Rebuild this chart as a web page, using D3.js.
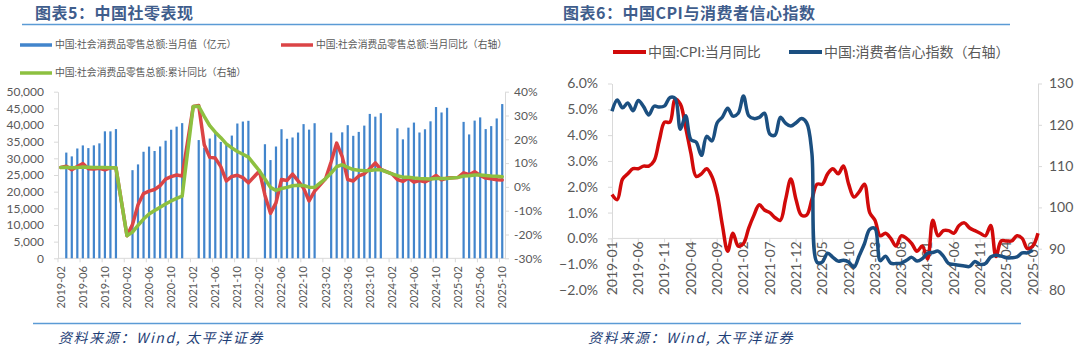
<!DOCTYPE html>
<html>
<head>
<meta charset="utf-8">
<script src="https://cdn.jsdelivr.net/npm/d3@7"></script>
<style>
  body { margin: 0; background: #fff; }
  svg { display: block; font-family: Lato, "Noto Sans CJK SC", sans-serif; }
</style>
</head>
<body>
<div id="app"></div>
<script>
// month labels "YYYY-MM" from start to end (inclusive)
function monthRange(start, end) {
  const parse = d3.timeParse('%Y-%m')
  const fmt = d3.timeFormat('%Y-%m')
  return d3.timeMonth.range(parse(start), d3.timeMonth.offset(parse(end), 1)).map(fmt)
}

// ---- chart 5: retail sales, 2019-02 .. 2025-10 ----
const retailMonths = monthRange('2019-02', '2025-10')

// monthly value (100m yuan), Jan/Feb not published
const retailValue = [
  null, 31726, 30586, 32956, 33878, 33073, 33896, 34495, 38104, 38094, 38777,
  null, null, 26450, 28178, 31973, 33526, 32203, 33571, 35295, 38576, 39514, 40566,
  null, null, 35484, 33153, 35945, 37586, 34925, 34395, 36833, 40454, 41043, 41269,
  null, null, 34233, 29483, 33547, 38742, 35870, 36258, 37745, 40271, 38615, 40542,
  null, null, 37715, 34910, 37803, 39951, 36761, 37933, 39826, 43333, 42505, 43550,
  null, null, 39020, 35699, 39211, 40732, 37757, 38726, 41112, 45396, 43763, 45172,
  null, null, 40940, 37174, 41326, 42287, 38780, 39668, 41971, 46291
]

// monthly yoy (%)
const retailYoY = [
  8.2, 8.7, 7.2, 8.6, 9.8, 7.6, 7.5, 7.8, 7.2, 8.0, 8.0,
  null, -20.5, -15.8, -7.5, -2.8, -1.8, -1.1, 0.5, 3.3, 4.3, 5.0, 4.6,
  null, 33.8, 34.2, 17.7, 12.4, 12.1, 8.5, 2.5, 4.4, 4.9, 3.9, 1.7,
  null, 6.7, -3.5, -11.1, -6.7, 3.1, 2.7, 5.4, 2.5, -0.5, -5.9, -1.8,
  null, 3.5, 10.6, 18.4, 12.7, 3.1, 2.5, 4.6, 5.5, 7.6, 10.1, 7.4,
  null, 5.5, 3.1, 2.3, 3.7, 2.0, 2.7, 2.1, 3.2, 4.8, 3.0, 3.7,
  null, 4.0, 5.9, 5.1, 6.4, 4.8, 3.7, 3.4, 3.0, 2.9
]

// cumulative yoy (%)
const retailCumYoY = [
  8.2, 8.3, 8.0, 8.1, 8.4, 8.3, 8.2, 8.2, 8.1, 8.0, 8.0,
  null, -20.5, -19.0, -16.2, -13.5, -11.4, -9.9, -8.6, -7.2, -5.9, -4.8, -3.9,
  null, 33.8, 33.9, 29.6, 25.7, 23.0, 20.7, 18.1, 16.4, 14.9, 13.7, 12.5,
  null, 6.7, 3.3, -0.2, -1.5, -0.7, -0.2, 0.5, 0.7, 0.6, -0.1, -0.2,
  null, 3.5, 5.8, 8.5, 9.3, 8.2, 7.3, 7.0, 6.8, 6.9, 7.2, 7.2,
  null, 5.5, 4.7, 4.1, 4.1, 3.7, 3.5, 3.4, 3.3, 3.5, 3.5, 3.5,
  null, 4.0, 4.6, 4.7, 5.0, 5.0, 4.8, 4.6, 4.5, 4.3
]

const retailValueTicks = d3.range(0, 50001, 5000)
const retailPctTicks = d3.range(-30, 41, 10)

// ---- chart 6: CPI and consumer confidence ----
const cpiMonths = monthRange('2019-01', '2025-10')

const cpiYoY = [
  1.7, 1.5, 2.3, 2.5, 2.7, 2.7, 2.8, 2.8, 3.0, 3.8, 4.5, 4.5,
  5.4, 5.2, 4.3, 3.3, 2.4, 2.5, 2.7, 2.4, 1.7, 0.5, -0.5, 0.2,
  -0.3, -0.2, 0.4, 0.9, 1.3, 1.1, 1.0, 0.8, 0.7, 1.5, 2.3, 1.5,
  0.9, 0.9, 1.5, 2.1, 2.1, 2.5, 2.7, 2.5, 2.8, 2.1, 1.6, 1.8,
  2.1, 1.0, 0.7, 0.1, 0.2, 0.0, -0.3, 0.1, 0.0, -0.2, -0.5, -0.3,
  -0.8, 0.7, 0.1, 0.3, 0.3, 0.2, 0.5, 0.6, 0.4, 0.3, 0.2, 0.1,
  0.5, -0.7, -0.1, -0.1, -0.1, 0.1, 0.0, -0.4, -0.3, 0.2
]

// consumer confidence index, through 2025-09
const confidence = [
  123.3, 126.0, 124.1, 125.3, 123.4, 125.9, 124.4, 122.4, 124.5, 124.3, 124.6, 126.6,
  126.4, 118.9, 122.2, 116.4, 115.8, 112.6, 117.2, 116.1, 120.5, 121.9, 124.0, 122.1,
  122.8, 127.0, 122.2, 121.5, 121.8, 122.8, 117.8, 117.5, 121.8, 120.4, 119.7, 120.5,
  121.5, 120.5, 113.2, 86.7, 86.8, 88.9, 87.9, 87.0, 87.2, 86.8, 85.5, 88.3,
  91.2, 94.7, 94.9, 87.1, 88.2, 86.5, 86.4, 86.5, 87.2, 87.9, 87.0, 87.6,
  88.9, 89.1, 89.4, 88.2, 86.4, 86.2, 86.0, 85.8, 85.7, 86.9, 86.2, 86.4,
  88.0, 88.4, 88.2, 87.8, 87.8, 88.0, 89.0, 89.0, 89.6
]

const cpiTicks = d3.range(-2, 6.01, 1)
const confTicks = d3.range(80, 131, 10)

const axisColor = '#d9d9d9'
const labelColor = '#595959'
const titleColor = '#3f5d8c'

// pair values with their month, dropping gaps so lines connect across them
function points(months, values) {
  return months.map((m, i) => ({ m, v: values[i] })).filter((d) => d.v != null)
}

function styleAxis(g, size) {
  g.select('.domain').attr('stroke', axisColor)
  g.selectAll('.tick line').attr('stroke', axisColor)
  g.selectAll('.tick text')
    .attr('fill', labelColor)
    .style('font-size', size + 'px')
    .style('font-family', 'Lato, sans-serif')
}

function main() {
  const app = d3.select('#app')
  const svg = app.append('svg').attr('width', 1080).attr('height', 347)

  // ================= left chart =================
  const left = svg.append('g')

  left.append('text')
    .attr('x', 35).attr('y', 19)
    .attr('fill', titleColor)
    .style('font-family', '"Noto Sans CJK SC"')
    .style('font-size', '16px')
    .style('font-weight', 'bold')
    .style('letter-spacing', '0.5px')
    .text('图表5：中国社零表现')

  left.append('line')
    .attr('x1', 22).attr('x2', 540).attr('y1', 24.5).attr('y2', 24.5)
    .attr('stroke', '#5b9bd5').attr('stroke-width', 1.5)

  // legend
  const legend1 = [
    { label: '中国:社会消费品零售总额:当月值（亿元）', color: '#4285cc', x: 20, y: 45 },
    { label: '中国:社会消费品零售总额:当月同比（右轴）', color: '#db4446', x: 281, y: 45 },
    { label: '中国:社会消费品零售总额:累计同比（右轴）', color: '#8dc040', x: 20, y: 73 }
  ]
  const lg1 = left.selectAll('g.legend').data(legend1).join('g')
  lg1.append('line')
    .attr('x1', (d) => d.x).attr('x2', (d) => d.x + 32)
    .attr('y1', (d) => d.y).attr('y2', (d) => d.y)
    .attr('stroke', (d) => d.color).attr('stroke-width', 3.5)
  lg1.append('text')
    .attr('x', (d) => d.x + 35).attr('y', (d) => d.y)
    .attr('dy', '0.35em')
    .attr('fill', labelColor)
    .style('font-size', '9.8px')
    .text((d) => d.label)

  const x1 = d3.scaleBand().domain(retailMonths).range([58, 505]).paddingInner(0.6).paddingOuter(0.3)
  const y1 = d3.scaleLinear().domain([0, 50000]).range([258.3, 91.7])
  const y1r = d3.scaleLinear().domain([-30, 40]).range([258.3, 91.7])
  const center1 = (m) => x1(m) + x1.bandwidth() / 2

  // axes
  left.append('g')
    .attr('transform', 'translate(58,0)')
    .call(d3.axisLeft(y1).tickValues(retailValueTicks).tickFormat(d3.format(',')).tickSize(4).tickSizeOuter(0).tickPadding(10))
    .call(styleAxis, 12)

  left.append('g')
    .attr('transform', 'translate(505,0)')
    .call(d3.axisRight(y1r).tickValues(retailPctTicks).tickFormat((d) => d + '%').tickSize(4).tickSizeOuter(0).tickPadding(5))
    .call(styleAxis, 12)

  left.append('line')
    .attr('x1', 58).attr('x2', 505).attr('y1', 258.3).attr('y2', 258.3)
    .attr('stroke', axisColor)

  const retailTickMonths = retailMonths.filter((m, i) => i % 4 === 0)
  left.selectAll('line.xtick').data(retailTickMonths).join('line')
    .attr('x1', (m) => center1(m) - x1.step() / 2)
    .attr('x2', (m) => center1(m) - x1.step() / 2)
    .attr('y1', 258.3).attr('y2', 262.3)
    .attr('stroke', axisColor)

  left.selectAll('text.xlabel').data(retailTickMonths).join('text')
    .attr('transform', (m) => `translate(${center1(m)},266) rotate(-90)`)
    .attr('dy', '0.35em')
    .attr('text-anchor', 'end')
    .attr('fill', labelColor)
    .style('font-size', '11px')
    .text((m) => m)

  // bars
  left.selectAll('rect.bar').data(points(retailMonths, retailValue)).join('rect')
    .attr('x', (d) => x1(d.m))
    .attr('width', x1.bandwidth())
    .attr('y', (d) => y1(d.v))
    .attr('height', (d) => y1(0) - y1(d.v))
    .attr('fill', '#4285cc')

  // lines on right axis
  const line1 = d3.line().x((d) => center1(d.m)).y((d) => y1r(d.v))
  left.append('path')
    .datum(points(retailMonths, retailYoY))
    .attr('d', line1)
    .attr('fill', 'none').attr('stroke', '#db4446').attr('stroke-width', 3.5)
    .attr('stroke-linejoin', 'round').attr('stroke-linecap', 'round')
  left.append('path')
    .datum(points(retailMonths, retailCumYoY))
    .attr('d', line1)
    .attr('fill', 'none').attr('stroke', '#8dc040').attr('stroke-width', 3.5)
    .attr('stroke-linejoin', 'round').attr('stroke-linecap', 'round')

  left.append('line')
    .attr('x1', 33).attr('x2', 540).attr('y1', 323.5).attr('y2', 323.5)
    .attr('stroke', '#5b9bd5').attr('stroke-width', 1.5)
  left.append('text')
    .attr('x', 58).attr('y', 343)
    .attr('fill', '#1f3f77')
    .style('font-family', '"Noto Sans CJK SC"')
    .style('font-size', '14px')
    .style('font-style', 'italic')
    .style('letter-spacing', '1.6px')
    .text('资料来源：Wind, 太平洋证券')

  // ================= right chart =================
  const right = svg.append('g')

  right.append('text')
    .attr('x', 563).attr('y', 19)
    .attr('fill', titleColor)
    .style('font-family', '"Noto Sans CJK SC"')
    .style('font-size', '16px')
    .style('font-weight', 'bold')
    .style('letter-spacing', '0.5px')
    .text('图表6：中国CPI与消费者信心指数')

  right.append('line')
    .attr('x1', 540).attr('x2', 1010).attr('y1', 24.5).attr('y2', 24.5)
    .attr('stroke', '#5b9bd5').attr('stroke-width', 1.5)

  const legend2 = [
    { label: '中国:CPI:当月同比', color: '#d10a0a', x: 613 },
    { label: '中国:消费者信心指数（右轴）', color: '#1b4f80', x: 789 }
  ]
  const lg2 = right.selectAll('g.legend').data(legend2).join('g')
  lg2.append('line')
    .attr('x1', (d) => d.x).attr('x2', (d) => d.x + 33)
    .attr('y1', 52).attr('y2', 52)
    .attr('stroke', (d) => d.color).attr('stroke-width', 4)
  lg2.append('text')
    .attr('x', (d) => d.x + 35).attr('y', 52)
    .attr('dy', '0.35em')
    .attr('fill', labelColor)
    .style('font-size', '14px')
    .text((d) => d.label)

  const x2 = d3.scalePoint().domain(cpiMonths).range([612, 1038])
  const y2 = d3.scaleLinear().domain([-2, 6]).range([290, 83.5])
  const y2r = d3.scaleLinear().domain([80, 130]).range([290, 83.5])

  right.append('g')
    .attr('transform', 'translate(612,0)')
    .call(d3.axisLeft(y2).tickValues(cpiTicks).tickFormat((d) => d3.format('.1f')(d) + '%').tickSize(4).tickSizeOuter(0).tickPadding(10))
    .call(styleAxis, 14)

  right.append('g')
    .attr('transform', 'translate(1038,0)')
    .call(d3.axisRight(y2r).tickValues(confTicks).tickSize(4).tickSizeOuter(0).tickPadding(7))
    .call(styleAxis, 14)

  right.append('line')
    .attr('x1', 612).attr('x2', 1038).attr('y1', y2(0)).attr('y2', y2(0))
    .attr('stroke', axisColor)

  const cpiTickMonths = cpiMonths.filter((m, i) => i % 5 === 0)
  right.selectAll('line.xtick').data(cpiTickMonths).join('line')
    .attr('x1', (m) => x2(m)).attr('x2', (m) => x2(m))
    .attr('y1', y2(0)).attr('y2', y2(0) + 4)
    .attr('stroke', axisColor)

  right.selectAll('text.xlabel').data(cpiTickMonths).join('text')
    .attr('transform', (m) => `translate(${x2(m)},${y2(0) + 3}) rotate(-90)`)
    .attr('dy', '0.35em')
    .attr('text-anchor', 'end')
    .attr('fill', labelColor)
    .style('font-size', '14px')
    .text((m) => m)

  right.append('path')
    .datum(points(cpiMonths, cpiYoY))
    .attr('d', d3.line().curve(d3.curveCatmullRom).x((d) => x2(d.m)).y((d) => y2(d.v)))
    .attr('fill', 'none').attr('stroke', '#d10a0a').attr('stroke-width', 3.5)
    .attr('stroke-linejoin', 'round')

  right.append('path')
    .datum(points(cpiMonths, confidence))
    .attr('d', d3.line().curve(d3.curveCatmullRom).x((d) => x2(d.m)).y((d) => y2r(d.v)))
    .attr('fill', 'none').attr('stroke', '#1b4f80').attr('stroke-width', 3.5)
    .attr('stroke-linejoin', 'round')

  right.append('line')
    .attr('x1', 540).attr('x2', 1021).attr('y1', 323.5).attr('y2', 323.5)
    .attr('stroke', '#5b9bd5').attr('stroke-width', 1.5)
  right.append('text')
    .attr('x', 588).attr('y', 343)
    .attr('fill', '#1f3f77')
    .style('font-family', '"Noto Sans CJK SC"')
    .style('font-size', '14px')
    .style('font-style', 'italic')
    .style('letter-spacing', '1.6px')
    .text('资料来源：Wind, 太平洋证券')
}

main()
</script>
</body>
</html>
